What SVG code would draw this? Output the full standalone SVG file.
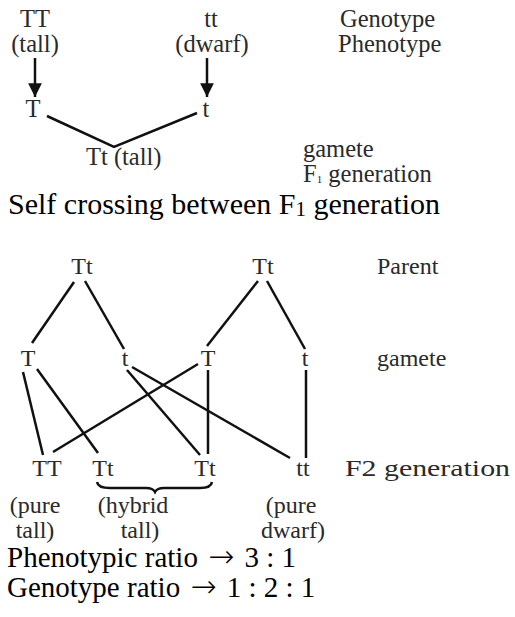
<svg xmlns="http://www.w3.org/2000/svg" width="515" height="617" viewBox="0 0 515 617">
  <style>
    .s { font-family: "Liberation Serif", "Times New Roman", Times, serif; font-size: 24px; fill: #2a2a2a; }
    .t { font-size: 24.5px; }
    .b { font-family: "Liberation Serif", "Times New Roman", Times, serif; font-size: 30px; fill: #000; }
    .r { font-size: 29px; }
    .ar { font-family: "DejaVu Sans", sans-serif; font-size: 31px; font-weight: 200; }
    .m { text-anchor: middle; }
    .ln { stroke: #111; stroke-width: 2.5; fill: none; stroke-linecap: butt; }
  </style>
  <defs>
    <marker id="ah" viewBox="0 0 10 10" refX="10" refY="5" markerWidth="5.5" markerHeight="5.5" markerUnits="strokeWidth" orient="auto">
      <path d="M0,0 L10,5 L0,10 Z" fill="#111"/>
    </marker>
  </defs>
  <rect width="515" height="617" fill="#fff"/>

  <g id="p1-TT"><text class="s t m" x="35" y="27">TT</text><text class="s t m" x="35" y="52">(tall)</text></g>
  <g id="p1-tt"><text class="s t m" x="211" y="27">tt</text><text class="s t m" x="212" y="52">(dwarf)</text></g>
  <g id="lbl-geno"><text class="s t" x="340" y="27">Genotype</text><text class="s t" x="338" y="52">Phenotype</text></g>
  <g id="g1-T"><text class="s t m" x="33" y="117">T</text></g>
  <g id="g1-t"><text class="s t m" x="206" y="117">t</text></g>
  <g id="f1"><text class="s t" x="86" y="165">Tt (tall)</text></g>
  <g id="lbl-f1"><text class="s t" x="303" y="157">gamete</text><text class="s t" x="303" y="182">F<tspan font-size="11" dy="1">1</tspan><tspan dy="-1"> generation</tspan></text></g>
  <g id="title"><text class="b" x="8" y="214">Self crossing between F<tspan font-size="21" dy="2">1</tspan><tspan dy="-2"> generation</tspan></text></g>

  <g id="p-Tt1"><text class="s m" x="82" y="274">Tt</text></g>
  <g id="p-Tt2"><text class="s m" x="263" y="274">Tt</text></g>
  <g id="lbl-parent"><text class="s" x="377" y="274">Parent</text></g>
  <g id="g-T1"><text class="s m" x="28" y="366">T</text></g>
  <g id="g-t1"><text class="s m" x="125" y="366">t</text></g>
  <g id="g-T2"><text class="s m" x="208" y="366">T</text></g>
  <g id="g-t2"><text class="s m" x="305" y="366">t</text></g>
  <g id="lbl-gamete"><text class="s" x="377" y="366">gamete</text></g>
  <g id="f2-TT"><text class="s m" x="47" y="476">TT</text></g>
  <g id="f2-Tt1"><text class="s m" x="103" y="476">Tt</text></g>
  <g id="f2-Tt2"><text class="s m" x="205" y="476">Tt</text></g>
  <g id="f2-tt"><text class="s m" x="303" y="476">tt</text></g>
  <g id="lbl-f2"><text class="s" x="345" y="476" textLength="165" lengthAdjust="spacingAndGlyphs">F2 generation</text></g>
  <g id="ph1"><text class="s m" x="35" y="513">(pure</text><text class="s m" x="35" y="538">tall)</text></g>
  <g id="ph2"><text class="s m" x="133" y="513">(hybrid</text><text class="s m" x="140" y="538">tall)</text></g>
  <g id="ph3"><text class="s m" x="291" y="513">(pure</text><text class="s m" x="293" y="538">dwarf)</text></g>
  <g id="ratios">
    <text class="b r" x="7" y="567">Phenotypic ratio <tspan class="ar" dx="3">→</tspan><tspan dx="3"> 3 : 1</tspan></text>
    <text class="b r" x="7" y="597">Genotype ratio <tspan class="ar" dx="3">→</tspan><tspan dx="3"> 1 : 2 : 1</tspan></text>
  </g>

  <g id="connectors">
    <line class="ln" x1="35" y1="58" x2="35" y2="97" marker-end="url(#ah)"/>
    <line class="ln" x1="207" y1="58" x2="207" y2="97" marker-end="url(#ah)"/>
    <polyline class="ln" points="47,116 114,147 197,113"/>
    <line class="ln" x1="74" y1="282" x2="32" y2="343"/>
    <line class="ln" x1="85" y1="281" x2="124" y2="349"/>
    <line class="ln" x1="258" y1="281" x2="207" y2="346"/>
    <line class="ln" x1="267" y1="281" x2="305" y2="349"/>
    <line class="ln" x1="23" y1="372" x2="43" y2="455"/>
    <line class="ln" x1="37" y1="369" x2="98" y2="453"/>
    <line class="ln" x1="127" y1="370" x2="200" y2="455"/>
    <line class="ln" x1="132" y1="367" x2="290" y2="458"/>
    <line class="ln" x1="198" y1="364" x2="53" y2="452"/>
    <line class="ln" x1="208" y1="370" x2="208" y2="454"/>
    <line class="ln" x1="306" y1="370" x2="306" y2="458"/>
    <path class="ln" stroke-width="1.3" d="M97,482 Q98,488 110,488 L146,488 Q153,488 155,492 Q157,488 164,488 L200,488 Q211,488 212,482"/>
  </g>
</svg>
